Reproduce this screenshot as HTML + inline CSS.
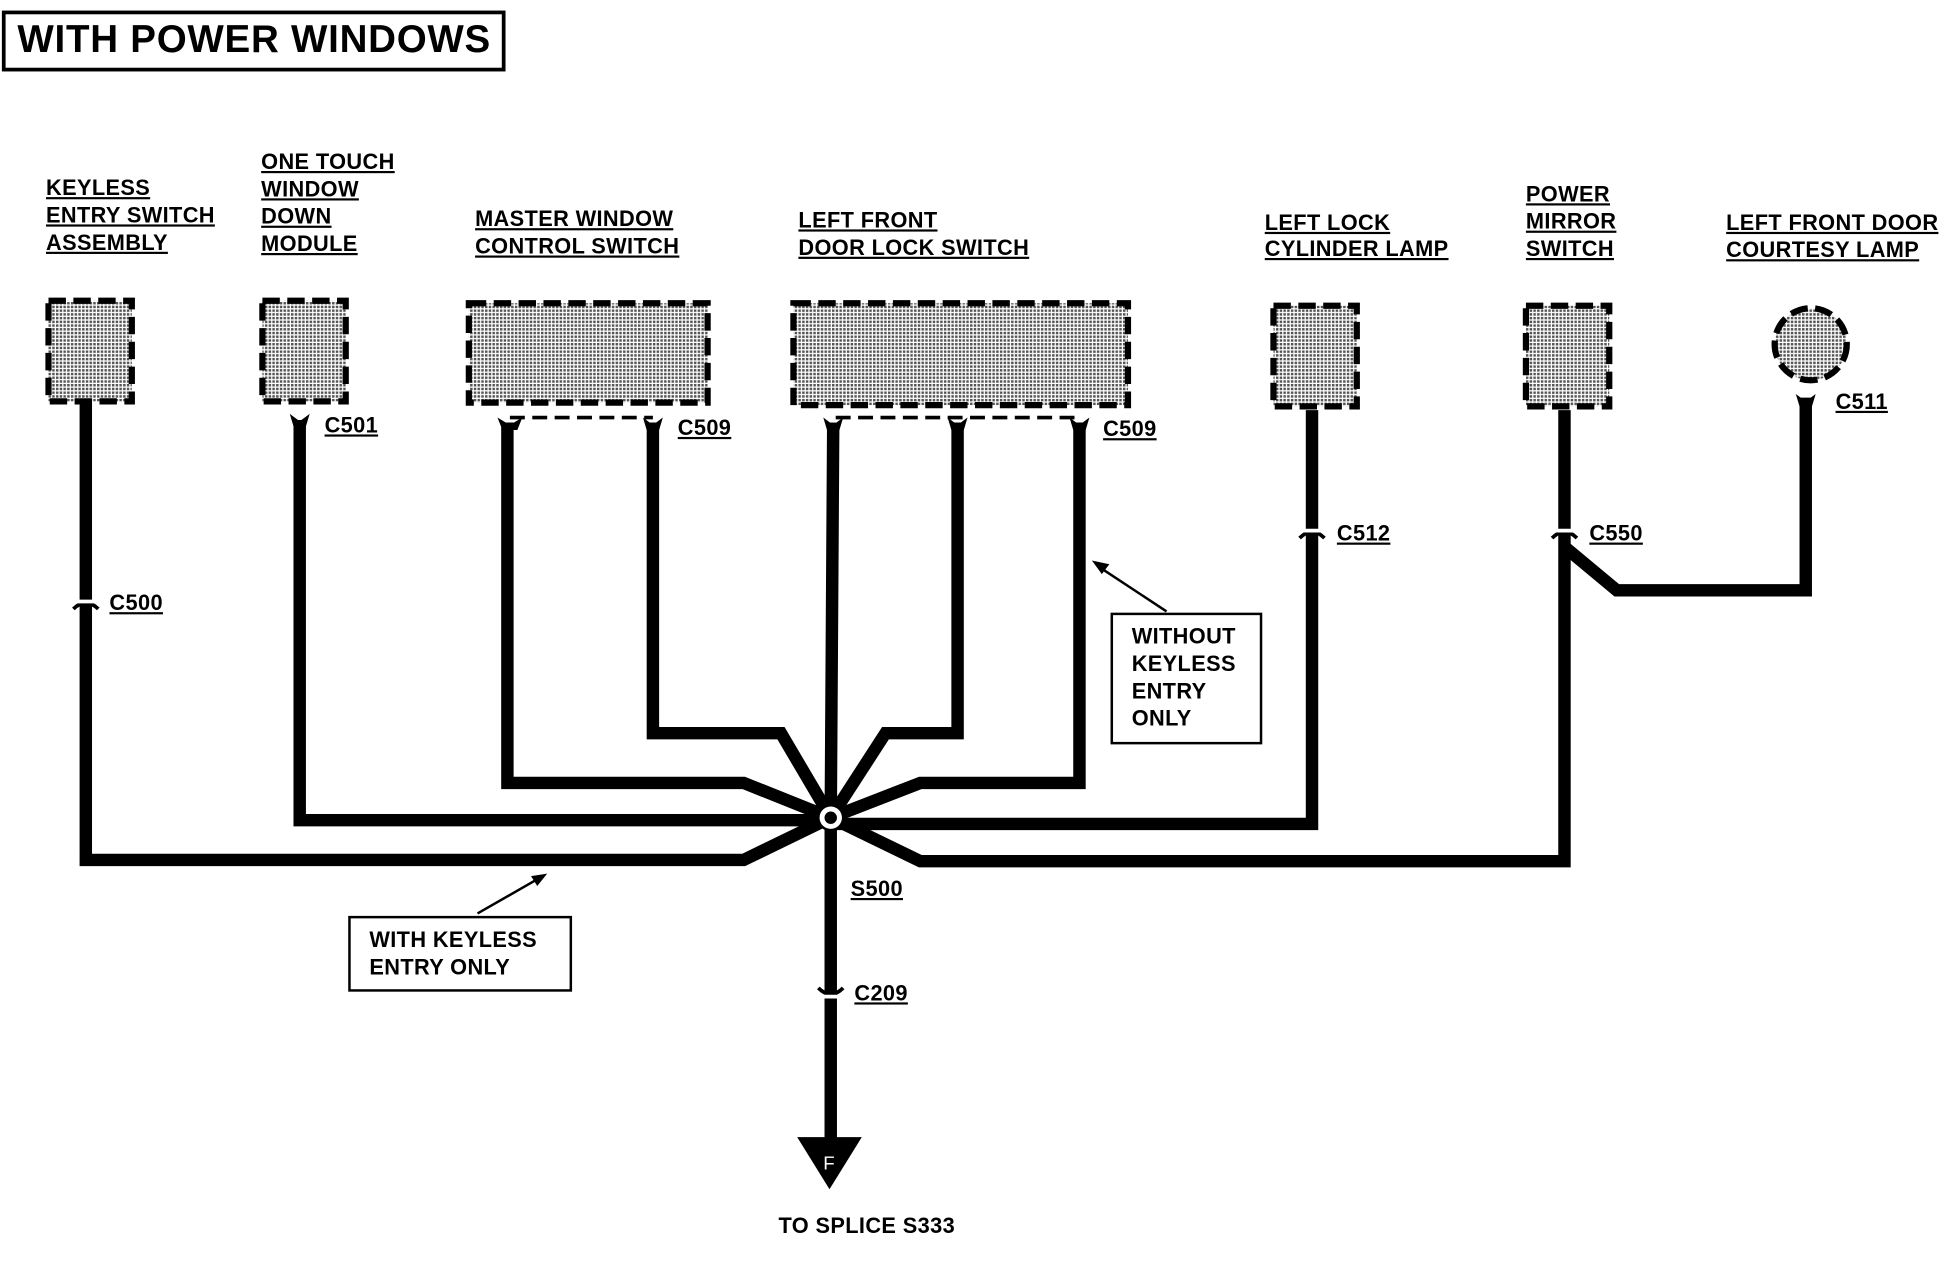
<!DOCTYPE html>
<html><head><meta charset="utf-8"><style>
html,body{margin:0;padding:0;background:#fff;}
svg{display:block;}
text{font-family:"Liberation Sans",Arial,sans-serif;font-weight:bold;fill:#000;}
.l{font-size:17.5px;text-decoration:underline;letter-spacing:0.3px;}
.b{font-size:17.5px;letter-spacing:0.3px;}
</style></head><body>
<svg width="1950" height="1280" viewBox="0 0 1568 1030" preserveAspectRatio="none" xmlns="http://www.w3.org/2000/svg">
<defs>
<pattern id="dots" width="3" height="3" patternUnits="userSpaceOnUse">
<rect width="3" height="3" fill="#fff"/><rect width="2" height="2" fill="#555"/>
</pattern>
</defs>
<rect x="0" y="0" width="1568" height="1030" fill="#fff"/>
<rect x="3" y="10" width="402" height="46" fill="none" stroke="#000" stroke-width="3"/>
<text x="14" y="42" style="font-size:31px;letter-spacing:0.6px">WITH POWER WINDOWS</text>

<!-- labels -->
<text class="l" x="37" y="157">KEYLESS</text>
<text class="l" x="37" y="179">ENTRY SWITCH</text>
<text class="l" x="37" y="201">ASSEMBLY</text>
<text class="l" x="210" y="136">ONE TOUCH</text>
<text class="l" x="210" y="158">WINDOW</text>
<text class="l" x="210" y="180">DOWN</text>
<text class="l" x="210" y="202">MODULE</text>
<text class="l" x="382" y="182">MASTER WINDOW</text>
<text class="l" x="382" y="204">CONTROL SWITCH</text>
<text class="l" x="642" y="183">LEFT FRONT</text>
<text class="l" x="642" y="205">DOOR LOCK SWITCH</text>
<text class="l" x="1017" y="185">LEFT LOCK</text>
<text class="l" x="1017" y="206">CYLINDER LAMP</text>
<text class="l" x="1227" y="162">POWER</text>
<text class="l" x="1227" y="184">MIRROR</text>
<text class="l" x="1227" y="206">SWITCH</text>
<text class="l" x="1388" y="185">LEFT FRONT DOOR</text>
<text class="l" x="1388" y="207">COURTESY LAMP</text>

<!-- components -->
<g stroke="#000" stroke-width="5" stroke-dasharray="14,6" fill="url(#dots)">
<rect x="39" y="242" width="67" height="81"/>
<rect x="211" y="242" width="67" height="81"/>
<rect x="377" y="244" width="192" height="80"/>
<rect x="638" y="244" width="269" height="82"/>
<rect x="1024" y="246" width="67" height="81"/>
<rect x="1227" y="246" width="67" height="81"/>
<circle cx="1456" cy="277" r="29"/>
</g>
<g stroke="#000" stroke-width="3" stroke-dasharray="12,6" fill="none">
<line x1="410" y1="336" x2="525" y2="336"/>
<line x1="672" y1="336" x2="868" y2="336"/>
</g>

<!-- wires -->
<g stroke="#000" stroke-width="10" fill="none" stroke-linejoin="miter">
<polyline points="69,325 69,692 598,692 668,658"/>
<polyline points="241,338 241,660 668,660"/>
<polyline points="408,340 408,630 598,630 668,658"/>
<polyline points="525,340 525,590 628,590 668,658"/>
<polyline points="670,340 668,658 668,920"/>
<polyline points="770,340 770,590 712,590 668,658"/>
<polyline points="868,340 868,630 740,630 668,658"/>
<polyline points="1055,330 1055,663 668,663"/>
<polyline points="1258,330 1258,693 740,693 668,658"/>
<polyline points="1258,440 1300,475 1452,475 1452,320"/>
</g>
<!-- connectors -->
<g fill="#000">
<path d="M400,336 l10,6 l10,-6 l-4,10 h-12z"/>
<path d="M517,336 l8,6 l8,-6 l-3,10 h-10z"/>
<path d="M662,336 l8,6 l8,-6 l-3,10 h-10z"/>
<path d="M762,336 l8,6 l8,-6 l-3,10 h-10z"/>
<path d="M860,336 l8,6 l8,-6 l-3,10 h-10z"/>
<path d="M233,333 l8,6 l8,-6 l-3,10 h-10z"/>
<path d="M1444,317 l8,6 l8,-6 l-3,10 h-10z"/>
</g>
<g stroke="#000" stroke-width="3" fill="#fff">
<path d="M59,490 q10,-10 20,0" fill="none"/>
<path d="M1045,433 q10,-10 20,0" fill="none"/>
<path d="M1248,433 q10,-10 20,0" fill="none"/>
<path d="M658,795 q10,10 20,0" fill="none"/>
</g>
<g stroke="#fff" stroke-width="3">
<line x1="60" y1="484" x2="78" y2="484"/>
<line x1="1046" y1="427" x2="1064" y2="427"/>
<line x1="1249" y1="427" x2="1267" y2="427"/>
<line x1="659" y1="802" x2="677" y2="802"/>
</g>
<text class="l" x="88" y="491">C500</text>
<text class="l" x="261" y="348">C501</text>
<text class="l" x="545" y="350">C509</text>
<text class="l" x="887" y="351">C509</text>
<text class="l" x="1075" y="435">C512</text>
<text class="l" x="1278" y="435">C550</text>
<text class="l" x="1476" y="329">C511</text>
<text class="l" x="684" y="721">S500</text>
<text class="l" x="687" y="805">C209</text>

<!-- splice -->
<circle cx="668" cy="658" r="11" fill="#000"/>
<circle cx="668" cy="658" r="9" fill="#fff"/>
<circle cx="668" cy="658" r="5" fill="#000"/>

<!-- ground arrow -->
<path d="M641,915 L693,915 L667,957 Z" fill="#000"/>
<text x="662" y="941" style="font-size:15px;fill:#fff;font-weight:normal">F</text>
<text class="b" x="626" y="992">TO SPLICE S333</text>

<!-- notes -->
<rect x="894" y="494" width="120" height="104" fill="none" stroke="#000" stroke-width="2"/>
<text class="b" x="910" y="518">WITHOUT</text>
<text class="b" x="910" y="540">KEYLESS</text>
<text class="b" x="910" y="562">ENTRY</text>
<text class="b" x="910" y="584">ONLY</text>
<line x1="938" y1="492" x2="885" y2="457" stroke="#000" stroke-width="2"/>
<path d="M878,451 l14,3 l-6,8z" fill="#000"/>
<rect x="281" y="738" width="178" height="59" fill="none" stroke="#000" stroke-width="2"/>
<text class="b" x="297" y="762">WITH KEYLESS</text>
<text class="b" x="297" y="784">ENTRY ONLY</text>
<line x1="384" y1="735" x2="433" y2="707" stroke="#000" stroke-width="2"/>
<path d="M440,703 l-13,2 l5,8z" fill="#000"/>
</svg>
</body></html>
